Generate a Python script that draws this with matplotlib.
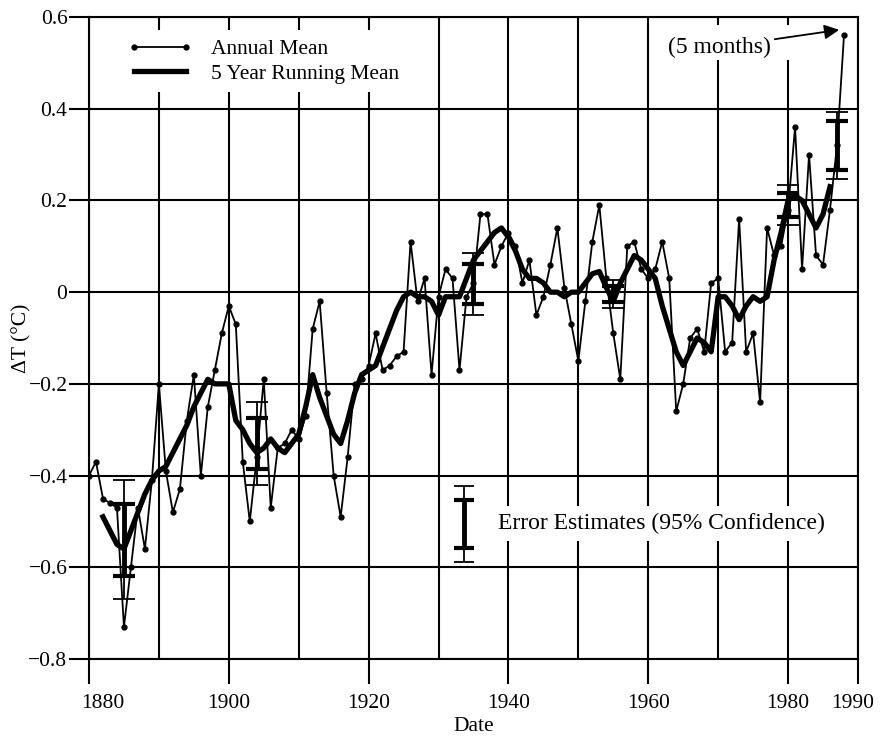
import numpy as np
import matplotlib.pyplot as plt
from matplotlib.patches import Rectangle
from matplotlib.transforms import ScaledTranslation

plt.rcParams['font.family'] = ['Liberation Serif', 'DejaVu Serif']
plt.rcParams['font.size'] = 15.5

# annual mean temperature change (deg C), 1880-1988 (1988 = first 5 months)
years = np.arange(1880, 1989)
annual = [-0.40, -0.37, -0.45, -0.46, -0.47, -0.73, -0.60, -0.47, -0.56, -0.41,
          -0.20, -0.39, -0.48, -0.43, -0.28, -0.18, -0.40, -0.25, -0.17, -0.09,
          -0.03, -0.07, -0.37, -0.50, -0.36, -0.19, -0.47, -0.34, -0.33, -0.30,
          -0.32, -0.27, -0.08, -0.02, -0.22, -0.40, -0.49, -0.36, -0.20, -0.19,
          -0.16, -0.09, -0.17, -0.16, -0.14, -0.13, 0.11, -0.02, 0.03, -0.18,
          -0.01, 0.05, 0.03, -0.17, -0.01, 0.02, 0.17, 0.17, 0.06, 0.10,
          0.13, 0.10, 0.02, 0.07, -0.05, -0.01, 0.06, 0.14, 0.01, -0.07,
          -0.15, -0.02, 0.11, 0.19, 0.03, -0.09, -0.19, 0.10, 0.11, 0.05,
          0.03, 0.05, 0.11, 0.03, -0.26, -0.20, -0.10, -0.08, -0.13, 0.02,
          0.03, -0.13, -0.11, 0.16, -0.13, -0.09, -0.24, 0.14, 0.08, 0.10,
          0.18, 0.36, 0.05, 0.30, 0.08, 0.06, 0.18, 0.32, 0.56]

# 5 year running mean, 1882-1986
run_years = np.arange(1882, 1987)
running = [-0.49, -0.52, -0.55, -0.56, -0.52, -0.48, -0.44, -0.41, -0.39, -0.38,
           -0.35, -0.32, -0.29, -0.25, -0.22, -0.19, -0.20, -0.20, -0.20, -0.28,
           -0.30, -0.33, -0.35, -0.34, -0.32, -0.34, -0.35, -0.33, -0.31, -0.25,
           -0.18, -0.23, -0.27, -0.31, -0.33, -0.28, -0.22, -0.18, -0.17, -0.16,
           -0.12, -0.08, -0.04, -0.01, 0.00, -0.01, -0.01, -0.02, -0.05, -0.01,
           -0.01, -0.01, 0.03, 0.07, 0.09, 0.11, 0.13, 0.14, 0.12, 0.09,
           0.05, 0.03, 0.03, 0.02, 0.00, 0.00, -0.01, 0.00, 0.00, 0.02,
           0.04, 0.045, 0.01, -0.02, 0.02, 0.05, 0.08, 0.07, 0.05, 0.03,
           -0.03, -0.08, -0.13, -0.16, -0.13, -0.10, -0.11, -0.13, -0.01, -0.01,
           -0.03, -0.06, -0.03, -0.01, -0.02, -0.01, 0.07, 0.13, 0.20, 0.21,
           0.20, 0.17, 0.14, 0.17, 0.23]

# error estimates (95% confidence): centre, inner and outer half widths
err_years = [1885, 1904, 1935, 1955, 1980, 1987]
err_center = [-0.54, -0.33, 0.018, -0.004, 0.19, 0.32]
err_inner = [0.078, 0.055, 0.044, 0.017, 0.027, 0.054]
err_outer = [0.13, 0.09, 0.067, 0.03, 0.044, 0.073]

# sample bar shown next to the "Error Estimates" note
key_year, key_center, key_inner, key_outer = 1933.6, -0.505, 0.052, 0.083

fig = plt.figure(figsize=(8.88, 7.36), dpi=100)
ax = fig.add_axes([0.1002, 0.1046, 0.8660, 0.8723])

ax.plot(years, annual, color='black', lw=1.3, marker='o', ms=3.5,
        label='Annual Mean', zorder=3)
ax.plot(run_years, running, color='black', lw=3.8,
        label='5 Year Running Mean', zorder=4)

# outer (thin) and inner (thick) error bars
ax.errorbar(err_years, err_center, yerr=err_outer, fmt='none', ecolor='black',
            elinewidth=1.3, capsize=8, capthick=1.3, zorder=5)
ax.errorbar(err_years, err_center, yerr=err_inner, fmt='none', ecolor='black',
            elinewidth=3.5, capsize=8, capthick=3.0, zorder=5)

ax.errorbar([key_year], [key_center], yerr=[key_outer], fmt='none',
            ecolor='black', elinewidth=1.3, capsize=7.5, capthick=1.3, zorder=5)
ax.errorbar([key_year], [key_center], yerr=[key_inner], fmt='none',
            ecolor='black', elinewidth=3.5, capsize=7.5, capthick=3.0, zorder=5)
ax.text(1938.5, key_center, 'Error Estimates (95% Confidence)', va='center',
        ha='left', fontsize=17, zorder=6,
        bbox=dict(facecolor='white', edgecolor='none', pad=5))

# white patch behind the "(5 months)" note, as in the original
ax.add_patch(Rectangle((0.742, 0.933), 0.183, 0.0545, transform=ax.transAxes,
                       facecolor='white', edgecolor='none', zorder=2.6))
ax.annotate('(5 months)', xy=(1987.3, 0.572), xytext=(1977.5, 0.534),
            ha='right', va='center', fontsize=17, zorder=6,
            arrowprops=dict(arrowstyle='-|>', color='black', lw=1.3,
                            mutation_scale=22, shrinkA=1, shrinkB=0))

ax.set_xlim(1880, 1990)
ax.set_ylim(-0.8, 0.6)
ax.set_xticks([1880, 1900, 1920, 1940, 1960, 1980, 1990])
ax.set_xticks(np.arange(1880, 1991, 10), minor=True)
ax.set_yticks(np.arange(-0.8, 0.61, 0.2))
ax.set_yticklabels(['\u22120.8', '\u22120.6', '\u22120.4', '\u22120.2', '0',
                    '0.2', '0.4', '0.6'])
ax.grid(True, which='both', color='black', lw=1.5)
ax.tick_params(axis='x', which='major', direction='out', length=18, width=1.5,
               pad=7)
ax.tick_params(axis='x', which='minor', length=0)
ax.tick_params(axis='y', direction='out', length=14.5, width=1.5, pad=1)
for s in ax.spines.values():
    s.set_linewidth(1.5)

# first and last date labels sit a little inside, as in the original
xlabels = ax.get_xticklabels()
xlabels[0].set_transform(xlabels[0].get_transform() +
                         ScaledTranslation(0.14, 0, fig.dpi_scale_trans))
xlabels[-1].set_transform(xlabels[-1].get_transform() +
                          ScaledTranslation(-0.05, 0, fig.dpi_scale_trans))

ax.set_xlabel('Date')
ax.xaxis.set_label_coords(0.5, -0.090)
ax.set_ylabel('\u0394T (\u00b0C)')
ax.yaxis.set_label_coords(-0.087, 0.5)
ax.yaxis.label.set_va('center')

leg = ax.legend(loc='upper left', bbox_to_anchor=(0.0395, 0.979), frameon=True,
                fancybox=False, edgecolor='none', facecolor='white',
                framealpha=1, handlelength=3.0, handletextpad=0.85,
                borderaxespad=0, labelspacing=0.2, numpoints=2)
leg.set_zorder(6)

fig.savefig('out.png', dpi=100)
